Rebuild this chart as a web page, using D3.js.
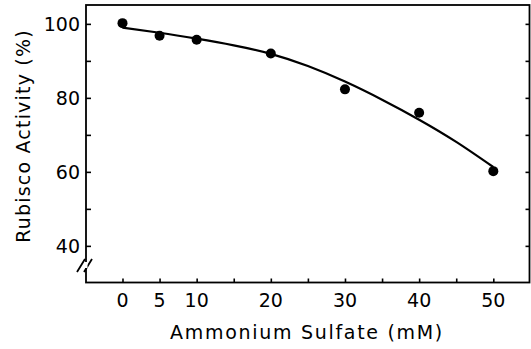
<!DOCTYPE html>
<html><head><meta charset="utf-8">
<script src="https://cdn.jsdelivr.net/npm/d3@7"></script>
<style>
html,body{margin:0;padding:0;background:#fff;}
svg{display:block;}
text{font-family:"DejaVu Sans",sans-serif;fill:#000;}
</style></head>
<body>
<svg id="chart" width="531" height="349"></svg>
<script>
// Measured data points
const concentrations = [0, 5, 10, 20, 30, 40, 50];
const activity = [100.2, 96.8, 95.7, 92.0, 82.3, 76.0, 60.2];
// Fitted curve
const curveX = [0, 5, 10, 15, 20, 25, 30, 35, 40, 45, 50];
const curveY = [99.0, 97.6, 96.0, 94.2, 91.9, 88.6, 84.4, 79.5, 74.1, 68.1, 61.3];
// Tick labels
const xTickLabels = [0, 5, 10, 20, 30, 40, 50];
const xTickMarks = [0, 5, 10, 15, 20, 25, 30, 35, 40, 45, 50];
const yTickLabels = [40, 60, 80, 100];
const yTickMarks = [40, 50, 60, 70, 80, 90, 100];
const xTitle = "Ammonium Sulfate (mM)";
const yTitle = "Rubisco Activity (%)";

const L = 86, R = 529.5, T = 5, B = 282.5;
const svg = d3.select("#chart");
const x = d3.scaleLinear().domain([-4.92, 54.88]).range([L, R]);
const y = d3.scaleLinear().domain([30.1, 105.1]).range([B, T]);

// frame
svg.append("rect").attr("x", L).attr("y", T).attr("width", R - L).attr("height", B - T)
  .attr("fill", "none").attr("stroke", "#000").attr("stroke-width", 1.8);

// left axis (ticks inward)
const leftAxis = d3.axisRight(y).tickValues(yTickMarks).tickSize(5).tickFormat("");
const gl = svg.append("g").attr("transform", `translate(${L},0)`).call(leftAxis);
gl.select(".domain").remove();
gl.selectAll("line").attr("stroke-width", 1.6);
// right axis ticks inward
const rightAxis = d3.axisLeft(y).tickValues(yTickMarks).tickSize(4).tickFormat("");
const gr = svg.append("g").attr("transform", `translate(${R},0)`).call(rightAxis);
gr.select(".domain").remove();
gr.selectAll("line").attr("stroke-width", 1.6);
// bottom ticks inward
const bottomAxis = d3.axisTop(x).tickValues(xTickMarks).tickSize(4).tickFormat("");
const gb = svg.append("g").attr("transform", `translate(0,${B})`).call(bottomAxis);
gb.select(".domain").remove();
gb.selectAll("line").attr("stroke-width", 1.6);

// tick labels
svg.append("g").selectAll("text").data(yTickLabels).join("text")
  .attr("x", 80).attr("y", d => y(d)).attr("dy", "0.36em")
  .attr("text-anchor", "end").attr("font-size", 19).text(d => d);
svg.append("g").selectAll("text").data(xTickLabels).join("text")
  .attr("x", d => x(d)).attr("y", 307)
  .attr("text-anchor", "middle").attr("font-size", 19).text(d => d);

// axis titles
svg.append("text").attr("x", 307).attr("y", 339).attr("text-anchor", "middle")
  .attr("font-size", 19).attr("letter-spacing", 1.7).text(xTitle);
svg.append("text").attr("transform", "translate(30,136) rotate(-90)")
  .attr("text-anchor", "middle").attr("font-size", 19).attr("letter-spacing", 1.2).text(yTitle);

// axis break mark
svg.append("path").attr("d", "M77,272 L85,259 M84,272 L92,259")
  .attr("stroke", "#000").attr("stroke-width", 1.8).attr("fill", "none");
svg.append("rect").attr("x", L - 1.5).attr("y", 262).attr("width", 3).attr("height", 6).attr("fill", "#fff");

// fitted curve
const line = d3.line().x((d, i) => x(curveX[i])).y(d => y(d)).curve(d3.curveNatural);
svg.append("path").datum(curveY).attr("d", line)
  .attr("fill", "none").attr("stroke", "#000").attr("stroke-width", 2.2);

// points
svg.append("g").selectAll("circle").data(activity).join("circle")
  .attr("cx", (d, i) => x(concentrations[i])).attr("cy", d => y(d)).attr("r", 5).attr("fill", "#000");
</script>
</body></html>
